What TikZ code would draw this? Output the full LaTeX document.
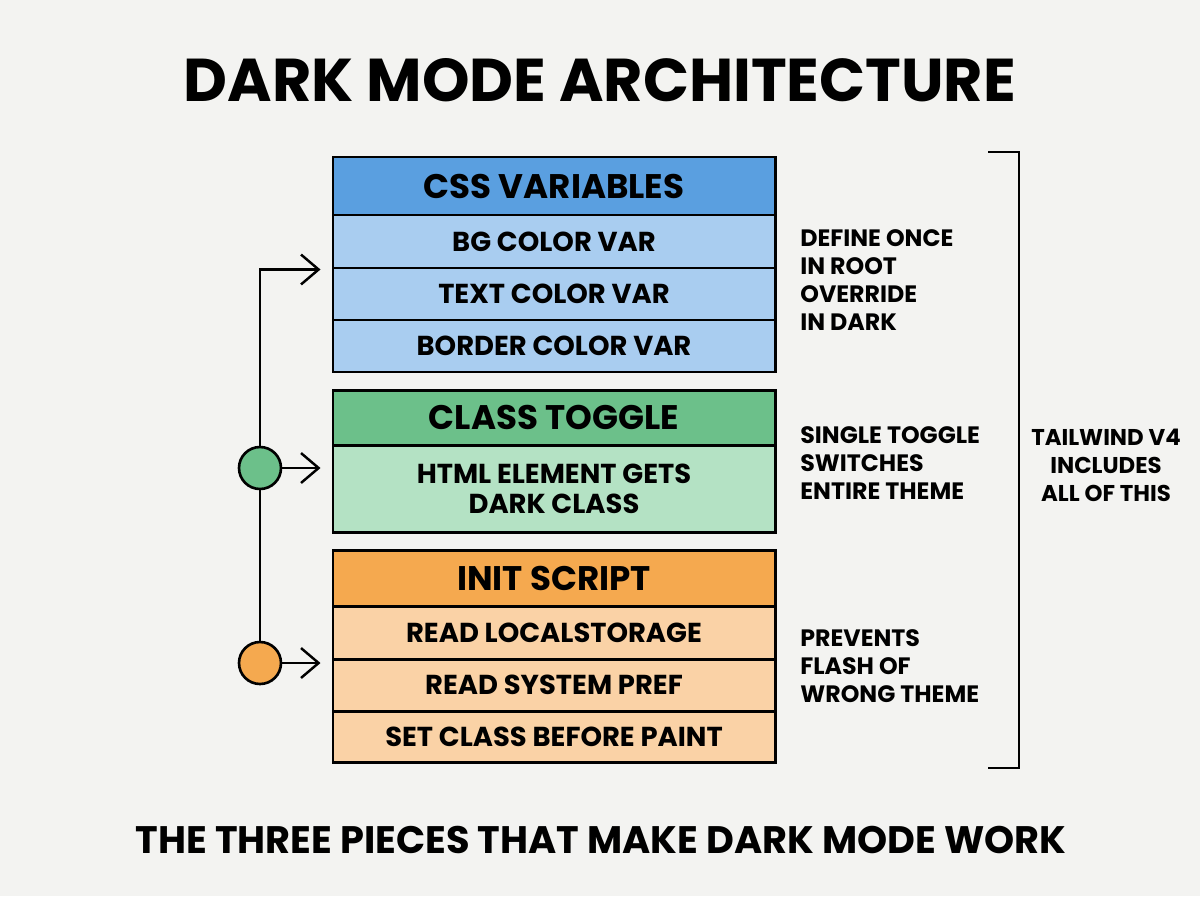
\documentclass[tikz,border=0pt]{standalone}
\usepackage{fontspec}
\setmainfont{Poppins}
\usetikzlibrary{arrows.meta}
\definecolor{bgc}{HTML}{F3F3F1}
\definecolor{bluehdr}{HTML}{5A9FE0}
\definecolor{bluerow}{HTML}{A9CDF0}
\definecolor{greenhdr}{HTML}{6CC08A}
\definecolor{greenrow}{HTML}{B4E2C4}
\definecolor{orangehdr}{HTML}{F5A94F}
\definecolor{orangerow}{HTML}{FAD2A6}
\def\pxu{0.02cm}
\tikzset{
  cell/.style={draw=black, line width=1.7pt, minimum width=442*\pxu, inner sep=0pt, align=center, font=\bfseries\fontsize{15.6}{19}\selectfont},
  hdrcell/.style={cell, font=\bfseries\fontsize{19.4}{24}\selectfont},
  note/.style={anchor=north west, align=left, inner sep=0pt, font=\bfseries\fontsize{13.5}{16}\selectfont},
  conn/.style={line width=1.4pt, black},
  arr/.style={conn, -{Straight Barb[length=10pt,width=17pt,line width=1.4pt]}, shorten >=11*\pxu},
  dot/.style={circle, draw=black, line width=1.5pt, minimum size=42*\pxu, inner sep=0pt}
}
\begin{document}
\begin{tikzpicture}[x=0.02cm, y=-0.02cm]
\fill[bgc] (0,0) rectangle (1200,896);
\useasboundingbox (0,0) rectangle (1200,896);

\node[font=\bfseries\fontsize{34.4}{40}\selectfont] (title) at (600,80) {DARK MODE ARCHITECTURE};

% CSS variables
\node[hdrcell, fill=bluehdr, minimum height=58*\pxu] (css) at (554,186) {CSS VARIABLES};
\node[cell, fill=bluerow, minimum height=53*\pxu] (bg) at (554,241.5) {BG COLOR VAR};
\node[cell, fill=bluerow, minimum height=52*\pxu] (txt) at (554,294) {TEXT COLOR VAR};
\node[cell, fill=bluerow, minimum height=52*\pxu] (brd) at (554,346) {BORDER COLOR VAR};

% Class toggle
\node[hdrcell, fill=greenhdr, minimum height=55*\pxu] (ct) at (554,417.5) {CLASS TOGGLE};
\node[cell, fill=greenrow, minimum height=87*\pxu, font=\bfseries\fontsize{15.6}{17}\selectfont] (html) at (554,488.5) {HTML ELEMENT GETS\\DARK CLASS};

% Init script
\node[hdrcell, fill=orangehdr, minimum height=56*\pxu] (init) at (554,578) {INIT SCRIPT};
\node[cell, fill=orangerow, minimum height=53*\pxu] (ls) at (554,632.5) {READ LOCALSTORAGE};
\node[cell, fill=orangerow, minimum height=52*\pxu] (sp) at (554,685) {READ SYSTEM PREF};
\node[cell, fill=orangerow, minimum height=51*\pxu] (sc) at (554,736.5) {SET CLASS BEFORE PAINT};

% left connectors
\node[dot, fill=greenhdr] (gc) at (260,468) {};
\node[dot, fill=orangehdr] (oc) at (260,663) {};
\draw[conn] (oc.north) -- (gc.south);
\draw[arr] (gc.north) |- (bg.south west);
\draw[arr] (gc.east) -- (gc -| html.west);
\draw[arr] (oc.east) -- (oc -| ls.west);

% notes
\node[note] (n1) at (800,229) {DEFINE ONCE\\IN ROOT\\OVERRIDE\\IN DARK};
\node[note] (n2) at (800,426) {SINGLE TOGGLE\\SWITCHES\\ENTIRE THEME};
\node[note] (n3) at (800,629) {PREVENTS\\FLASH OF\\WRONG THEME};

% bracket
\coordinate (bt) at (988,152);
\coordinate (bb) at (988,768);
\draw[conn, line width=1.6pt] (bt) -- ++(31,0) coordinate (btr) -- (btr |- bb) -- (bb);
\node[align=center, inner sep=0pt, font=\bfseries\fontsize{13}{16}\selectfont] (tw) at (1106,465) {TAILWIND V4\\INCLUDES\\ALL OF THIS};

\node[font=\bfseries\fontsize{21.8}{26}\selectfont] (sub) at (601,840) {THE THREE PIECES THAT MAKE DARK MODE WORK};
\end{tikzpicture}
\end{document}
